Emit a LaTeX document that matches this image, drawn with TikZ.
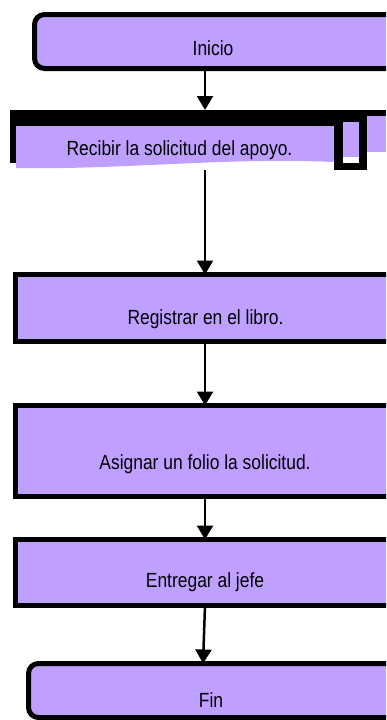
\documentclass[tikz,border=0pt]{standalone}
\usepackage{fontspec}
\setmainfont{Liberation Sans}[FakeStretch=0.85]
\usetikzlibrary{arrows.meta}
\definecolor{boxfill}{RGB}{191,159,255}
\begin{document}
\begin{tikzpicture}[x=1pt,y=-1pt,
  procbox/.style={draw=black,line width=5pt,fill=boxfill,inner sep=0pt,outer sep=0pt},
  termbox/.style={procbox,rounded corners=10pt},
  txt/.style={font=\fontsize{20.5}{24}\selectfont,text=black,inner sep=0pt,anchor=base},
  arr/.style={line width=2.5pt,-{Triangle[width=16pt,length=14pt]}}]
\useasboundingbox (0,0) rectangle (386,720);
\clip (0,0) rectangle (386,720);
\coordinate (ax) at (205,0);
\coordinate (ax2) at (203,0);
% Inicio
\node[termbox, minimum width=361.5pt, minimum height=54pt] (inicio) at (215.25,41.5) {};
\node[txt] (tinicio) at (213,55) {Inicio};
% Recibir (irregular shape)
\node[inner sep=0pt, outer sep=0pt, minimum width=376pt, minimum height=60pt] (recibir) at (198,140) {};
\fill[boxfill] (16,126) -- (334,126) -- (334,162) .. controls (230,157) and (120,170) .. (16,168) -- cycle;
\fill[boxfill] (367,116) rectangle (386,152);
\fill[black] (10,110) rectangle (334,126);
\fill[black] (334,110) rectangle (386,116);
\fill[black] (10,126) rectangle (16,163);
\fill[black] (334,110) rectangle (367,170);
\fill[boxfill] (343,122) rectangle (359,157);
\fill[white] (343,157) rectangle (359,163);
\node[txt] (trecibir) at (179.5,155) {Recibir la solicitud del apoyo.};
% Registrar
\node[procbox, minimum width=384.5pt, minimum height=67pt] (registrar) at (207.75,308) {};
\node[txt] (tregistrar) at (205.5,324) {Registrar en el libro.};
% Asignar
\node[procbox, minimum width=384.5pt, minimum height=91pt] (asignar) at (207.75,451) {};
\node[txt] (tasignar) at (205,469) {Asignar un folio la solicitud.};
% Entregar
\node[procbox, minimum width=384.5pt, minimum height=66pt] (entregar) at (207.75,572.5) {};
\node[txt] (tentregar) at (205,587) {Entregar al jefe};
% Fin
\node[termbox, minimum width=371.5pt, minimum height=54pt] (fin) at (214.25,690.5) {};
\node[txt] (tfin) at (211,707) {Fin};
% Arrows
\draw[arr] (inicio.south -| ax) -- (recibir.north -| ax);
\draw[arr] (recibir.south -| ax) -- (registrar.north -| ax);
\draw[arr] (registrar.south -| ax) -- (asignar.north -| ax);
\draw[arr] (asignar.south -| ax) -- (entregar.north -| ax);
\draw[arr] (entregar.south -| ax) -- (fin.north -| ax2);
\end{tikzpicture}
\end{document}
